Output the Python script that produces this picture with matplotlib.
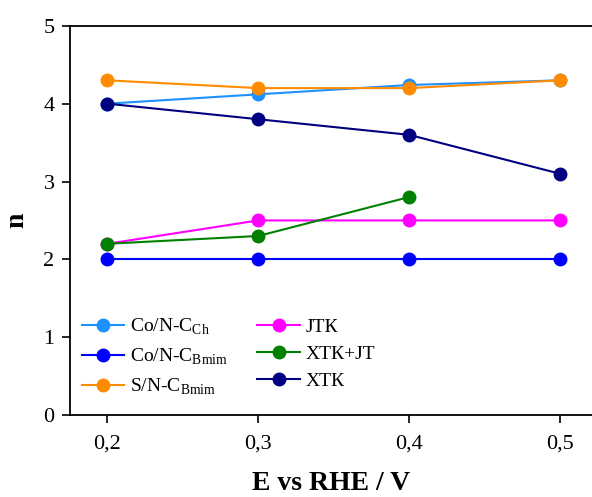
import numpy as np
import matplotlib
matplotlib.use("Agg")
import matplotlib.pyplot as plt

plt.rcParams['font.family'] = ['Liberation Serif', 'DejaVu Serif']
plt.rcParams['mathtext.fontset'] = 'custom'
plt.rcParams['mathtext.rm'] = 'Liberation Serif'

# Potential (V vs RHE) and number of transferred electrons
potential = [0.2, 0.3, 0.4, 0.5]
n_co_ch = [4.0, 4.12, 4.24, 4.3]
n_co_bmim = [2.0, 2.0, 2.0, 2.0]
n_s_bmim = [4.3, 4.2, 4.2, 4.3]
n_jtk = [2.2, 2.5, 2.5, 2.5]
n_xtk_jt = [2.2, 2.3, 2.8]
n_xtk = [4.0, 3.8, 3.6, 3.1]

labels = ['Co/N-C$_{\\mathrm{Ch}}$', 'Co/N-C$_{\\mathrm{Bmim}}$', 'S/N-C$_{\\mathrm{Bmim}}$',
          'ЈТК', 'ХТК+ЈТ', 'ХТК']
colors = ['#1E90FF', '#0000FF', '#FF8C00', '#FF00FF', '#008000', '#000080']
series = [n_co_ch, n_co_bmim, n_s_bmim, n_jtk, n_xtk_jt, n_xtk]

fig = plt.figure(figsize=(5.92, 4.97), dpi=100)
ax = fig.add_axes([0.118, 0.165, 0.882, 0.783])

for y, lab, c in zip(series, labels, colors):
    ax.plot(potential[:len(y)], y, '-o', color=c, lw=1.5, ms=9, label=lab)

ax.set_xlim(0.1751, 0.5213)
ax.set_ylim(0, 5)
ax.set_xticks(potential)
ax.set_xticklabels(['0,2', '0,3', '0,4', '0,5'])
ax.set_yticks(range(6))
ax.spines['right'].set_visible(False)
for s in ['left', 'bottom', 'top']:
    ax.spines[s].set_linewidth(1.3)
ax.tick_params(direction='out', length=6, width=1.2, labelsize=16, pad=5)
ax.tick_params(axis='x', pad=8)

ax.set_xlabel('E vs RHE / V', fontsize=20, fontweight='bold', labelpad=13)
ax.set_ylabel('n', fontsize=20, fontweight='bold', labelpad=10)

ax.legend(ncol=2, loc='upper left', bbox_to_anchor=(0.0, 0.283), frameon=False,
          fontsize=14, handlelength=2.2, handletextpad=0.3, columnspacing=1.5,
          labelspacing=0.5, borderaxespad=0.2)

fig.savefig('out.png', dpi=100)
